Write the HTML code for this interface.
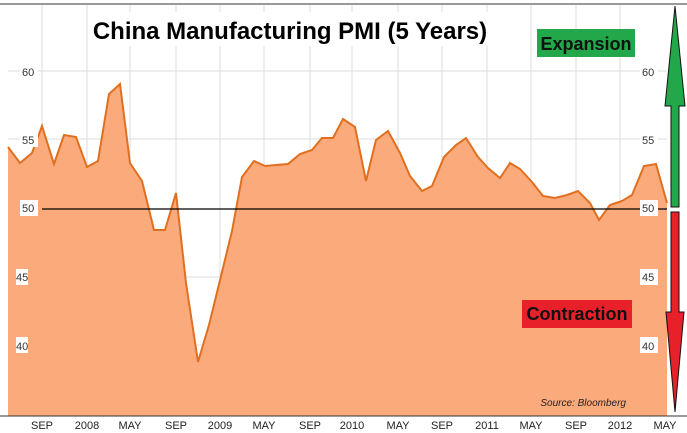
<!DOCTYPE html>
<html><head><style>
body{margin:0;background:#fff;}
svg{display:block;font-family:"Liberation Sans",sans-serif;}
</style></head><body>
<svg width="687" height="433" viewBox="0 0 687 433">
<rect width="687" height="433" fill="#fff"/>
<line x1="0" y1="4" x2="687" y2="4" stroke="#333" stroke-width="1"/>
<g stroke="#ddd" stroke-width="1">
<line x1="8" y1="71" x2="667" y2="71"/><line x1="8" y1="139" x2="667" y2="139"/>
<line x1="8" y1="277" x2="667" y2="277"/><line x1="8" y1="345" x2="667" y2="345"/>
<line x1="42" y1="5" x2="42" y2="416"/><line x1="87" y1="5" x2="87" y2="416"/><line x1="130" y1="5" x2="130" y2="416"/><line x1="176" y1="5" x2="176" y2="416"/><line x1="220" y1="5" x2="220" y2="416"/><line x1="264" y1="5" x2="264" y2="416"/><line x1="310" y1="5" x2="310" y2="416"/><line x1="352" y1="5" x2="352" y2="416"/><line x1="398" y1="5" x2="398" y2="416"/><line x1="442" y1="5" x2="442" y2="416"/><line x1="487" y1="5" x2="487" y2="416"/><line x1="531" y1="5" x2="531" y2="416"/><line x1="576" y1="5" x2="576" y2="416"/><line x1="620" y1="5" x2="620" y2="416"/>
</g>
<polygon fill="#fbaa7c" points="8,416 8,147 20,163 32,153 42,126 54,164 64,135 76,137 87,167 98,161 109,94 120,84 130,163 142,181 154,230 165,230 176,193 186,283 198,362 209,325 222,272 232,231 242,177 254,161 265,166 276,165 288,164 300,154 312,150 322,138 333,138 343,119 355,127 366,181 376,140 388,131 400,153 410,176 422,191 432,186 444,157 456,145 466,138 478,157 488,168 500,178 510,163 520,169 532,182 543,196 555,198 567,195 578,191 590,203 599,220 610,205 622,201 632,195 644,166 656,164 667,203 667,416"/>
<polyline fill="none" stroke="#e07020" stroke-width="2" points="8,147 20,163 32,153 42,126 54,164 64,135 76,137 87,167 98,161 109,94 120,84 130,163 142,181 154,230 165,230 176,193 186,283 198,362 209,325 222,272 232,231 242,177 254,161 265,166 276,165 288,164 300,154 312,150 322,138 333,138 343,119 355,127 366,181 376,140 388,131 400,153 410,176 422,191 432,186 444,157 456,145 466,138 478,157 488,168 500,178 510,163 520,169 532,182 543,196 555,198 567,195 578,191 590,203 599,220 610,205 622,201 632,195 644,166 656,164 667,203"/>
<line x1="42" y1="209" x2="667" y2="209" stroke="#000" stroke-width="1.2"/>
<g font-size="11" fill="#333">
<g fill="#fff"><rect x="20" y="63" width="18" height="16"/><rect x="20" y="131" width="18" height="16"/><rect x="20" y="200" width="18" height="16"/><rect x="16" y="269" width="12" height="16"/><rect x="16" y="337" width="12" height="16"/>
<rect x="640" y="63" width="18" height="16"/><rect x="640" y="131" width="18" height="16"/><rect x="640" y="200" width="18" height="16"/><rect x="640" y="269" width="18" height="16"/><rect x="640" y="337" width="18" height="16"/></g>
<text x="22" y="76">60</text><text x="22" y="144">55</text><text x="22" y="212">50</text><text x="16" y="281">45</text><text x="16" y="350">40</text>
<text x="642" y="76">60</text><text x="642" y="144">55</text><text x="642" y="212">50</text><text x="642" y="281">45</text><text x="642" y="350">40</text>
</g>
<line x1="0" y1="416" x2="687" y2="416" stroke="#333"/>
<g font-size="11" fill="#222" text-anchor="middle">
<text x="42" y="429">SEP</text><text x="87" y="429">2008</text><text x="130" y="429">MAY</text><text x="176" y="429">SEP</text><text x="220" y="429">2009</text><text x="264" y="429">MAY</text><text x="310" y="429">SEP</text><text x="352" y="429">2010</text><text x="398" y="429">MAY</text><text x="442" y="429">SEP</text><text x="487" y="429">2011</text><text x="531" y="429">MAY</text><text x="576" y="429">SEP</text><text x="620" y="429">2012</text><text x="665" y="429">MAY</text>
</g>
<text x="626" y="406" font-size="10" font-style="italic" fill="#222" text-anchor="end">Source: Bloomberg</text>
<rect x="90" y="12" width="400" height="34" fill="#fff"/>
<text x="290" y="39" font-size="24" font-weight="bold" fill="#000" text-anchor="middle">China Manufacturing PMI (5 Years)</text>
<rect x="537" y="29" width="98" height="28" fill="#22a84a"/>
<text x="586" y="50" font-size="18" font-weight="bold" fill="#111" text-anchor="middle">Expansion</text>
<rect x="522" y="300" width="110" height="28" fill="#e8202a"/>
<text x="577" y="320" font-size="18" font-weight="bold" fill="#111" text-anchor="middle">Contraction</text>
<polygon fill="#22a84a" stroke="#111" points="675,6 685,106 679,106 679,207 671,207 671,106 665,106"/>
<polygon fill="#e8202a" stroke="#111" points="671,212 679,212 679,312 684,312 675,412 666,312 671,312"/>
</svg>
</body></html>
